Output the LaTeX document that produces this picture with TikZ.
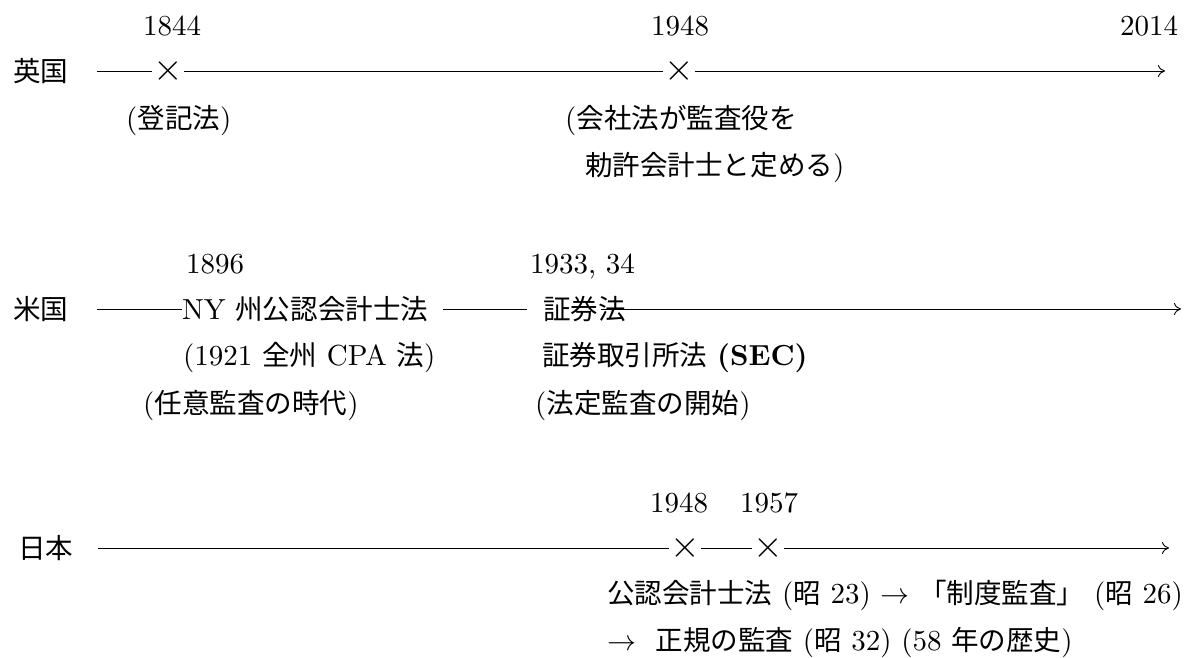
\RequirePackage{fix-cm}
\documentclass[tikz,border=0pt]{standalone}
\usepackage{fontspec}
\setmainfont{lmroman10-regular.otf}[BoldFont=lmroman10-bold.otf]
\newfontfamily\jpfont[Scale=0.95]{Noto Sans CJK JP}
\newcommand\J[1]{{\jpfont #1}}
\usetikzlibrary{arrows.meta}
\begin{document}
\begin{tikzpicture}[x=1pt,y=-1pt,
  every node/.style={font=\fontsize{29}{35}\selectfont},
  lbl/.style={anchor=base west, inner sep=0pt},
  yr/.style={anchor=base, inner sep=0pt},
  mk/.style={inner sep=1pt, font=\fontsize{38}{40}\selectfont},
  tl/.style={line width=0.9pt},
  arr/.style={tl,-{To[length=7pt,width=12pt]}}]
\useasboundingbox (0,0) rectangle (1191,657);

% ---------- UK ----------
\node[lbl] (uk) at (13,81) {\J{英国}};
\node[yr] (y1844) at (172,35) {1844};
\node[yr] (y1948a) at (680,35) {1948};
\node[yr] (y2014) at (1149,35) {2014};
\coordinate (uks) at (97,71);
\coordinate (uke) at (1165,71);
\node[mk] (x1844) at (168,71) {$\times$};
\node[mk] (x1948a) at (679,71) {$\times$};
\draw[tl] (uks) -- (x1844);
\draw[tl] (x1844) -- (x1948a);
\draw[arr] (x1948a) -- (uke);
\node[lbl] (n1) at (126,128) {(\J{登記法})};
\node[lbl] (n2) at (565,128) {(\J{会社法が監査役を}};
\node[lbl] (n3) at (585,175) {\J{勅許会計士と定める})};

% ---------- US ----------
\node[lbl] (us) at (13,319) {\J{米国}};
\node[yr] (y1896) at (215,273) {1896};
\node[lbl] (y1933) at (530,273) {1933, 34};
\node[lbl] (ny) at (182,319) {NY \J{州公認会計士法}};
\node[lbl] (sec) at (543,319) {\J{証券法}};
\coordinate (uss) at (97,309);
\coordinate (use) at (1181,309);
\draw[tl] (uss) -- (uss -| ny.west);
\draw[tl] ([xshift=15pt]ny.east |- uss) -- ([xshift=-16pt]sec.west |- uss);
\draw[arr] ([xshift=-25pt]sec.east |- uss) -- (use);
\node[lbl] (cpa) at (183,365) {(1921 \J{全州} CPA \J{法})};
\node[lbl] (sea) at (542,365) {\J{証券取引所法} \textbf{(SEC)}};
\node[lbl] (nini) at (143,413) {(\J{任意監査の時代})};
\node[lbl] (hotei) at (535,413) {(\J{法定監査の開始})};

% ---------- Japan ----------
\node[lbl] (jp) at (18,558) {\J{日本}};
\node[lbl] (y1948b) at (650,512) {1948};
\node[lbl] (y1957) at (740,512) {1957};
\coordinate (jps) at (98,548);
\coordinate (jpe) at (1169,548);
\node[mk] (x1948b) at (685,548) {$\times$};
\node[mk] (x1957) at (768,548) {$\times$};
\draw[tl] (jps) -- (x1948b);
\draw[tl] (x1948b) -- (x1957);
\draw[arr] (x1957) -- (jpe);
\node[lbl] (j1) at (607,603) {\J{公認会計士法} (\J{昭} 23) $\rightarrow$ \J{「制度監査」} (\J{昭} 26)};
\node[lbl] (j2) at (607,650) {$\rightarrow$\ \ \J{正規の監査} (\J{昭} 32) (58 \J{年の歴史})};
\end{tikzpicture}
\end{document}
